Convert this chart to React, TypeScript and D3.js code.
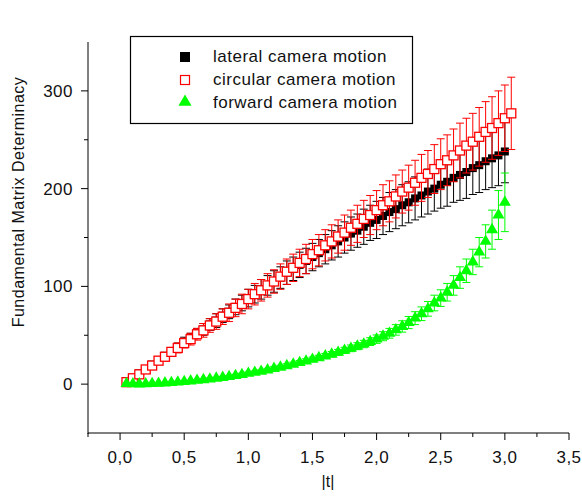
import * as d3 from 'd3';

const W = 582;
const H = 503;

// |t| positions (step 0.05)
const tLateral = d3.range(1, 61).map((i) => i * 0.05);
const tCircular = d3.range(1, 62).map((i) => i * 0.05);
const tForward = d3.range(1, 61).map((i) => i * 0.05);

const lateral = [
  2, 6, 11, 15, 20, 24, 29, 33, 38, 43, 47, 52, 56, 61, 65, 70, 74, 79, 83, 88,
  92, 97, 101, 105, 109, 114, 118, 122, 126, 130, 134, 138, 142, 146, 150, 154, 157, 161, 165, 168,
  172, 176, 179, 183, 186, 190, 193, 197, 200, 204, 207, 211, 214, 217, 221, 224, 228, 231, 234, 238,
];
const lateralErr = [
  1, 1, 2, 2, 3, 3, 3, 4, 4, 5, 5, 5, 6, 6, 7, 7, 7, 8, 8, 9,
  9, 10, 10, 11, 11, 12, 12, 13, 13, 14, 14, 15, 15, 16, 16, 17, 17, 18, 18, 19,
  19, 20, 20, 21, 21, 22, 22, 23, 23, 24, 25, 25, 26, 27, 27, 28, 29, 30, 31, 32,
];

const circular = [
  2, 6, 10, 15, 19, 24, 28, 33, 37, 42, 46, 51, 55, 60, 64, 69, 73, 78, 82, 87,
  92, 96, 101, 105, 110, 115, 119, 124, 128, 133, 137, 142, 146, 151, 155, 160, 164, 169, 173, 178,
  183, 187, 192, 197, 201, 206, 211, 215, 220, 225, 229, 234, 239, 244, 248, 253, 258, 262, 267, 272,
  277,
];
const circularErr = [
  1, 1, 2, 2, 3, 3, 4, 4, 5, 5, 6, 6, 7, 7, 8, 8, 9, 9, 10, 10,
  11, 11, 12, 12, 13, 13, 14, 14, 15, 15, 16, 16, 17, 17, 18, 18, 19, 19, 20, 20,
  21, 21, 22, 22, 23, 23, 24, 24, 25, 26, 26, 27, 28, 28, 29, 30, 31, 32, 33, 34,
  37,
];

const forward = [
  0.5, 0.3, 0.2, 0.3, 0.5, 0.8, 1.2, 1.6, 2.1, 2.6, 3.2, 3.8, 4.5, 5.2, 6, 6.8, 7.7, 8.7, 9.8, 11,
  12, 13, 14.5, 16, 17.3, 18.8, 20.3, 22, 23.6, 25.3, 27, 28.8, 30.6, 32.5, 34.5, 36.6, 38.8, 41, 43.5, 46,
  49, 52, 55.5, 59, 63, 67.5, 72, 77, 83, 88, 94, 101, 109, 116, 125, 135, 146, 158, 173, 186,
];
const forwardErr = [
  0.5, 0.5, 0.5, 0.5, 0.5, 0.6, 0.6, 0.7, 0.7, 0.8, 0.8, 0.9, 0.9, 1, 1, 1.1, 1.2, 1.2, 1.3, 1.4,
  1.5, 1.6, 1.7, 1.8, 1.9, 2, 2.1, 2.2, 2.3, 2.4, 2.5, 2.6, 2.8, 3, 3.2, 3.4, 3.6, 3.8, 4, 4.3,
  4.6, 5, 5.4, 5.8, 6.2, 6.6, 7, 7.5, 8, 8.5, 9, 10, 11, 12, 13, 15, 17, 20, 25, 30,
];

const xTicks = [0, 0.5, 1.0, 1.5, 2.0, 2.5, 3.0, 3.5];
const xMinor = [-0.25, 0.25, 0.75, 1.25, 1.75, 2.25, 2.75, 3.25];
const yTicks = [0, 100, 200, 300];
const yMinor = [50, 150, 250];

const legendItems = ['lateral camera motion', 'circular camera motion', 'forward camera motion'];

const FONT = 'Liberation Sans, Arial, sans-serif';

export default function App() {
  const x = d3.scaleLinear().domain([-0.25, 3.5]).range([88, 569]);
  const y = d3.scaleLinear().domain([-50, 350]).range([433, 42]);

  const fmt = (d: number) => d.toFixed(1).replace('.', ',');
  const tri = d3.symbol().type(d3.symbolTriangle).size(62);
  const triLegend = d3.symbol().type(d3.symbolTriangle).size(75);

  const errBars = (ts: number[], vals: number[], errs: number[], color: string) =>
    ts.map((t, i) => {
      const cx = x(t);
      const y1 = y(vals[i] + errs[i]);
      const y2 = y(vals[i] - errs[i]);
      return (
        <g key={i} stroke={color} strokeWidth={1}>
          <line x1={cx} x2={cx} y1={y1} y2={y2} />
          <line x1={cx - 4} x2={cx + 4} y1={y1} y2={y1} />
          <line x1={cx - 4} x2={cx + 4} y1={y2} y2={y2} />
        </g>
      );
    });

  return (
    <div style={{ position: 'absolute', left: 0, top: 0 }}>
      <svg width={W} height={H} style={{ display: 'block', background: '#fff' }} fontFamily={FONT}>
        {/* axes */}
        <g stroke="#000" strokeWidth={1} fill="none">
          <line x1={88} x2={88} y1={y(350)} y2={y(-50) + 1} />
          <line x1={88} x2={x(3.5)} y1={y(-50)} y2={y(-50)} />
          {xTicks.map((t) => (
            <line key={'xt' + t} x1={x(t)} x2={x(t)} y1={y(-50)} y2={y(-50) + 7} />
          ))}
          {xMinor.map((t) => (
            <line key={'xm' + t} x1={x(t)} x2={x(t)} y1={y(-50)} y2={y(-50) + 4} />
          ))}
          {yTicks.map((v) => (
            <line key={'yt' + v} x1={81} x2={88} y1={y(v)} y2={y(v)} />
          ))}
          {yMinor.map((v) => (
            <line key={'ym' + v} x1={84} x2={88} y1={y(v)} y2={y(v)} />
          ))}
        </g>
        {xTicks.map((t) => (
          <text key={'xl' + t} x={x(t)} y={463} fontSize={17} letterSpacing={0.5} textAnchor="middle" fill="#111">
            {fmt(t)}
          </text>
        ))}
        {yTicks.map((v) => (
          <text key={'yl' + v} x={73} y={y(v) + 6} fontSize={17} letterSpacing={0.5} textAnchor="end" fill="#111">
            {v}
          </text>
        ))}
        <text x={328} y={487} fontSize={16} textAnchor="middle" fill="#111">
          |t|
        </text>
        <text
          transform={`translate(24,${202}) rotate(-90)`}
          fontSize={16}
          letterSpacing={0.5}
          textAnchor="middle"
          fill="#111"
        >
          Fundamental Matrix Determinacy
        </text>

        {/* lateral */}
        {errBars(tLateral, lateral, lateralErr, '#000')}
        {tLateral.map((t, i) => (
          <rect key={'l' + i} x={x(t) - 4} y={y(lateral[i]) - 4} width={8} height={8} fill="#000" />
        ))}

        {/* circular */}
        {errBars(tCircular, circular, circularErr, '#ff0000')}
        {tCircular.map((t, i) => (
          <rect
            key={'c' + i}
            x={x(t) - 4.5}
            y={y(circular[i]) - 4.5}
            width={9}
            height={9}
            fill="#fff"
            stroke="#ff0000"
            strokeWidth={1.3}
          />
        ))}

        {/* forward */}
        {errBars(tForward, forward, forwardErr, '#00ff00')}
        {tForward.map((t, i) => (
          <path key={'f' + i} d={tri() as string} transform={`translate(${x(t)},${y(forward[i])})`} fill="#00ff00" />
        ))}

        {/* legend */}
        <rect x={130.5} y={36.5} width={282} height={87} fill="#fff" stroke="#000" strokeWidth={1.2} />
        <rect x={180} y={52} width={10} height={10} fill="#000" />
        <rect x={180.5} y={75.5} width={9} height={9} fill="#fff" stroke="#ff0000" strokeWidth={1.2} />
        <path d={triLegend() as string} transform="translate(185,102)" fill="#00ff00" />
        {legendItems.map((s, i) => (
          <text key={s} x={213} y={62 + i * 23} fontSize={17} letterSpacing={0.5} fill="#111">
            {s}
          </text>
        ))}
      </svg>
    </div>
  );
}
